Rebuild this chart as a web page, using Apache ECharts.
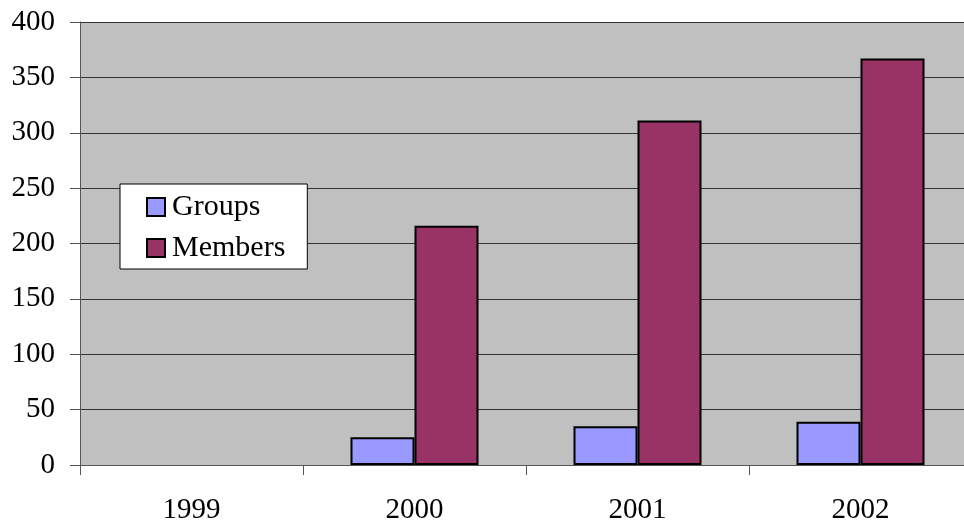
<!DOCTYPE html>
<html>
<head>
<meta charset="utf-8">
<script src="https://cdn.jsdelivr.net/npm/echarts@6/dist/echarts.min.js"></script>
<style>
html,body{margin:0;padding:0;background:#fff;overflow:hidden;width:964px;height:529px;}
#chart{width:972px;height:529px;}
</style>
</head>
<body>
<div id="chart"></div>
<script>
var categories = ['1999', '2000', '2001', '2002'];
var groups = [null, 25, 35, 39];
var members = [null, 216, 311, 367];
var seriesNames = ['Groups', 'Members'];
var yTicks = { min: 0, max: 400, interval: 50 };

var FONT = 'Liberation Serif';
var chart = echarts.init(document.getElementById('chart'), null, { renderer: 'canvas' });
chart.setOption({
  animation: false,
  textStyle: { fontFamily: FONT, color: '#000' },
  grid: {
    left: 80, top: 22, right: 0, bottom: 64,
    show: true, backgroundColor: '#C0C0C0', borderWidth: 0
  },
  legend: {
    orient: 'vertical',
    left: 120, top: 184,
    backgroundColor: '#fff',
    borderColor: '#000', borderWidth: 1, borderRadius: 0,
    padding: [7, 22, 5, 26],
    itemGap: 9,
    itemWidth: 18, itemHeight: 18,
    icon: 'rect',
    textStyle: { fontFamily: FONT, fontSize: 30, color: '#000', lineHeight: 32, padding: [0, 0, 0, 2] },
    data: [
      { name: seriesNames[0], itemStyle: { color: '#9999FF', borderColor: '#000', borderWidth: 2 } },
      { name: seriesNames[1], itemStyle: { color: '#993366', borderColor: '#000', borderWidth: 2 } }
    ]
  },
  xAxis: {
    type: 'category',
    data: categories,
    boundaryGap: true,
    axisLine: { show: true, lineStyle: { color: '#555', width: 1 } },
    axisTick: { show: true, length: 10, lineStyle: { color: '#555' } },
    axisLabel: { fontFamily: FONT, fontSize: 29, color: '#000', margin: 31 },
    splitLine: { show: false }
  },
  yAxis: {
    type: 'value',
    min: yTicks.min, max: yTicks.max, interval: yTicks.interval,
    axisLine: { show: true, lineStyle: { color: '#555', width: 1 } },
    axisTick: { show: true, length: 10, lineStyle: { color: '#555' } },
    axisLabel: { fontFamily: FONT, fontSize: 29, color: '#000', margin: 25 },
    splitLine: { show: true, lineStyle: { color: '#333', width: 1 } }
  },
  series: [
    {
      name: seriesNames[0], type: 'bar', data: groups,
      barGap: '0%', barWidth: 64,
      itemStyle: { color: '#9999FF', borderColor: '#000', borderWidth: 2 }
    },
    {
      name: seriesNames[1], type: 'bar', data: members,
      barGap: '0%', barWidth: 64,
      itemStyle: { color: '#993366', borderColor: '#000', borderWidth: 2 }
    }
  ]
});
</script>
</body>
</html>
